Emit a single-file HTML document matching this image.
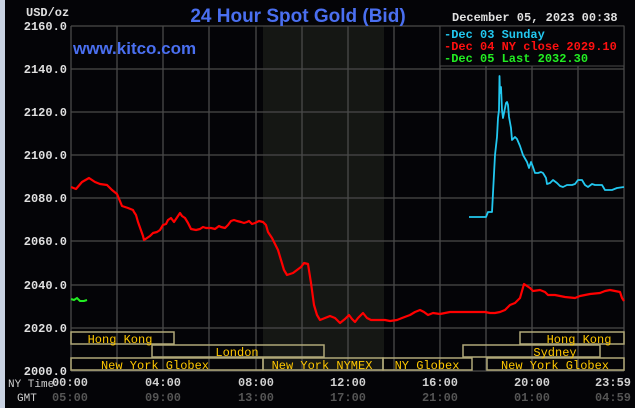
<!DOCTYPE html><html><head><style>body{margin:0;background:#030306}svg{display:block}</style></head><body>
<svg width="635" height="408" xmlns="http://www.w3.org/2000/svg" font-family="Liberation Mono, monospace">
<rect width="635" height="408" fill="#040407"/>
<rect x="0" y="0" width="5" height="408" fill="#c9d2e2"/>
<rect x="263" y="26" width="121" height="345" fill="#151714"/>
<g stroke="#4a4a4a" stroke-width="1.3">
<path d="M71 26V371M117 26V371M163 26V371M209 26V371M256 26V371M302 26V371M348 26V371M394 26V371M440 26V371M486 26V371M532 26V371M578 26V371M624 26V371"/>
<path d="M71 26H624M71 69H624M71 112H624M71 155H624M71 198H624M71 241H624M71 285H624M71 328H624M71 371H624"/>
</g>
<g fill="#e0e0e0" font-size="12" font-weight="bold" text-anchor="end">
<text x="67" y="30">2160.0</text><text x="67" y="73">2140.0</text><text x="67" y="116">2120.0</text><text x="67" y="159">2100.0</text><text x="67" y="202">2080.0</text><text x="67" y="245">2060.0</text><text x="67" y="289">2040.0</text><text x="67" y="332">2020.0</text><text x="67" y="375">2000.0</text>
</g>
<text x="26" y="16" fill="#e0e0e0" font-size="12" font-weight="bold">USD/oz</text>
<text x="298" y="22" fill="#4a6ff0" font-size="19" font-family="Liberation Sans, sans-serif" font-weight="bold" text-anchor="middle">24 Hour Spot Gold (Bid)</text>
<text x="73" y="54" fill="#4a6ff0" font-size="17" font-family="Liberation Sans, sans-serif" font-weight="bold">www.kitco.com</text>
<text x="452" y="21" fill="#e0e0e0" font-size="12" font-weight="bold">December 05, 2023 00:38</text>
<rect x="440" y="26" width="184" height="40" fill="#040407" stroke="#4a4a4a"/>
<g font-size="12" font-weight="bold">
<text x="444" y="38" fill="#22c8f0">-Dec 03 Sunday</text>
<text x="444" y="50" fill="#ff1010">-Dec 04 NY close 2029.10</text>
<text x="444" y="62" fill="#22ee22">-Dec 05 Last 2032.30</text>
</g>
<g fill="none" stroke="#b0a878" stroke-width="1.5">
<rect x="71" y="332" width="103" height="12"/><rect x="520" y="332" width="104" height="12"/>
<rect x="152" y="345" width="172" height="12"/><rect x="463" y="345" width="137" height="12"/>
<rect x="71" y="358" width="192" height="12"/><rect x="263" y="358" width="120" height="12"/><rect x="383" y="358" width="89" height="12"/><rect x="487" y="358" width="137" height="12"/>
</g>
<g fill="#ffc800" font-size="12" text-anchor="middle">
<text x="120" y="343">Hong Kong</text><text x="579" y="343">Hong Kong</text>
<text x="237" y="356">London</text><text x="555" y="356">Sydney</text>
<text x="155" y="369">New York Globex</text><text x="322" y="369">New York NYMEX</text><text x="427" y="369">NY Globex</text><text x="555" y="369">New York Globex</text>
</g>
<g font-size="12" font-weight="bold" text-anchor="middle">
<text x="70" y="386" fill="#d0d0d0">00:00</text><text x="163" y="386" fill="#d0d0d0">04:00</text><text x="256" y="386" fill="#d0d0d0">08:00</text><text x="348" y="386" fill="#d0d0d0">12:00</text><text x="440" y="386" fill="#d0d0d0">16:00</text><text x="532" y="386" fill="#d0d0d0">20:00</text><text x="613" y="386" fill="#d0d0d0">23:59</text>
<text x="70" y="401" fill="#555">05:00</text><text x="163" y="401" fill="#555">09:00</text><text x="256" y="401" fill="#555">13:00</text><text x="348" y="401" fill="#555">17:00</text><text x="440" y="401" fill="#555">21:00</text><text x="532" y="401" fill="#555">01:00</text><text x="613" y="401" fill="#555">04:59</text>
</g>
<text x="8" y="387" fill="#d0d0d0" font-size="11">NY Time</text>
<text x="17" y="401" fill="#d0d0d0" font-size="11">GMT</text>
<polyline fill="none" stroke="#ff0000" stroke-width="2.2" stroke-linejoin="round" points="71,187 76,189 82,182 89,178 95,182 100,184 107,185 112,190 117,194 122,206 125,207 128,208 133,210 134,212 136,215 138,222 143,236 144,240 147,238 150,236 153,233 157,232 160,230 163,225 166,224 168,220 171,218 174,222 178,216 180,213 182,216 185,218 188,223 191,229 196,230 200,229 203,227 206,228 211,228 215,229 219,226 221,227 225,228 228,225 231,221 234,220 237,221 241,222 244,223 247,222 249,221 252,224 255,223 259,221 263,222 266,225 268,232 272,238 278,250 281,260 284,270 287,275 290,274 293,273 297,270 301,267 304,263 308,264 311,283 314,305 317,315 320,320 325,318 330,316 335,318 340,323 345,319 349,315 352,319 355,322 358,318 363,313 367,318 371,320 380,320 385,320 390,321 397,320 402,318 410,315 415,312 420,310 424,312 428,315 433,313 440,314 450,312 460,312 470,312 485,312 490,313 495,313 500,312 505,310 510,305 515,303 520,298 524,284 530,288 533,291 540,290 545,292 548,295 555,295 565,297 575,298 580,296 590,294 600,293 605,291 610,290 615,291 620,292 622,298 624,301"/>
<polyline fill="none" stroke="#22c8f0" stroke-width="1.8" stroke-linejoin="round" points="469,217 486,217 488,212 492,212 493,193 495,155 497,137 498,118 499,110 499.5,76 500,93 501,87 502,110 503,118 504,113 506,103 507,102 508,105 509,117 511,128 512,140 515,137 517,139 520,146 523,155 527,162 529,168 531,162 533,167 535,173 538,173 541,172 543,173 546,178 547,184 550,183 553,180 557,183 560,186 563,187 567,185 572,185 575,184 578,180 582,180 585,185 588,187 592,184 595,185 602,185 605,190 612,190 617,188 624,187"/>
<polyline fill="none" stroke="#22ee22" stroke-width="2" points="71,299 74,300 77,298 80,301 84,301 87,300"/>
</svg>
</body></html>
